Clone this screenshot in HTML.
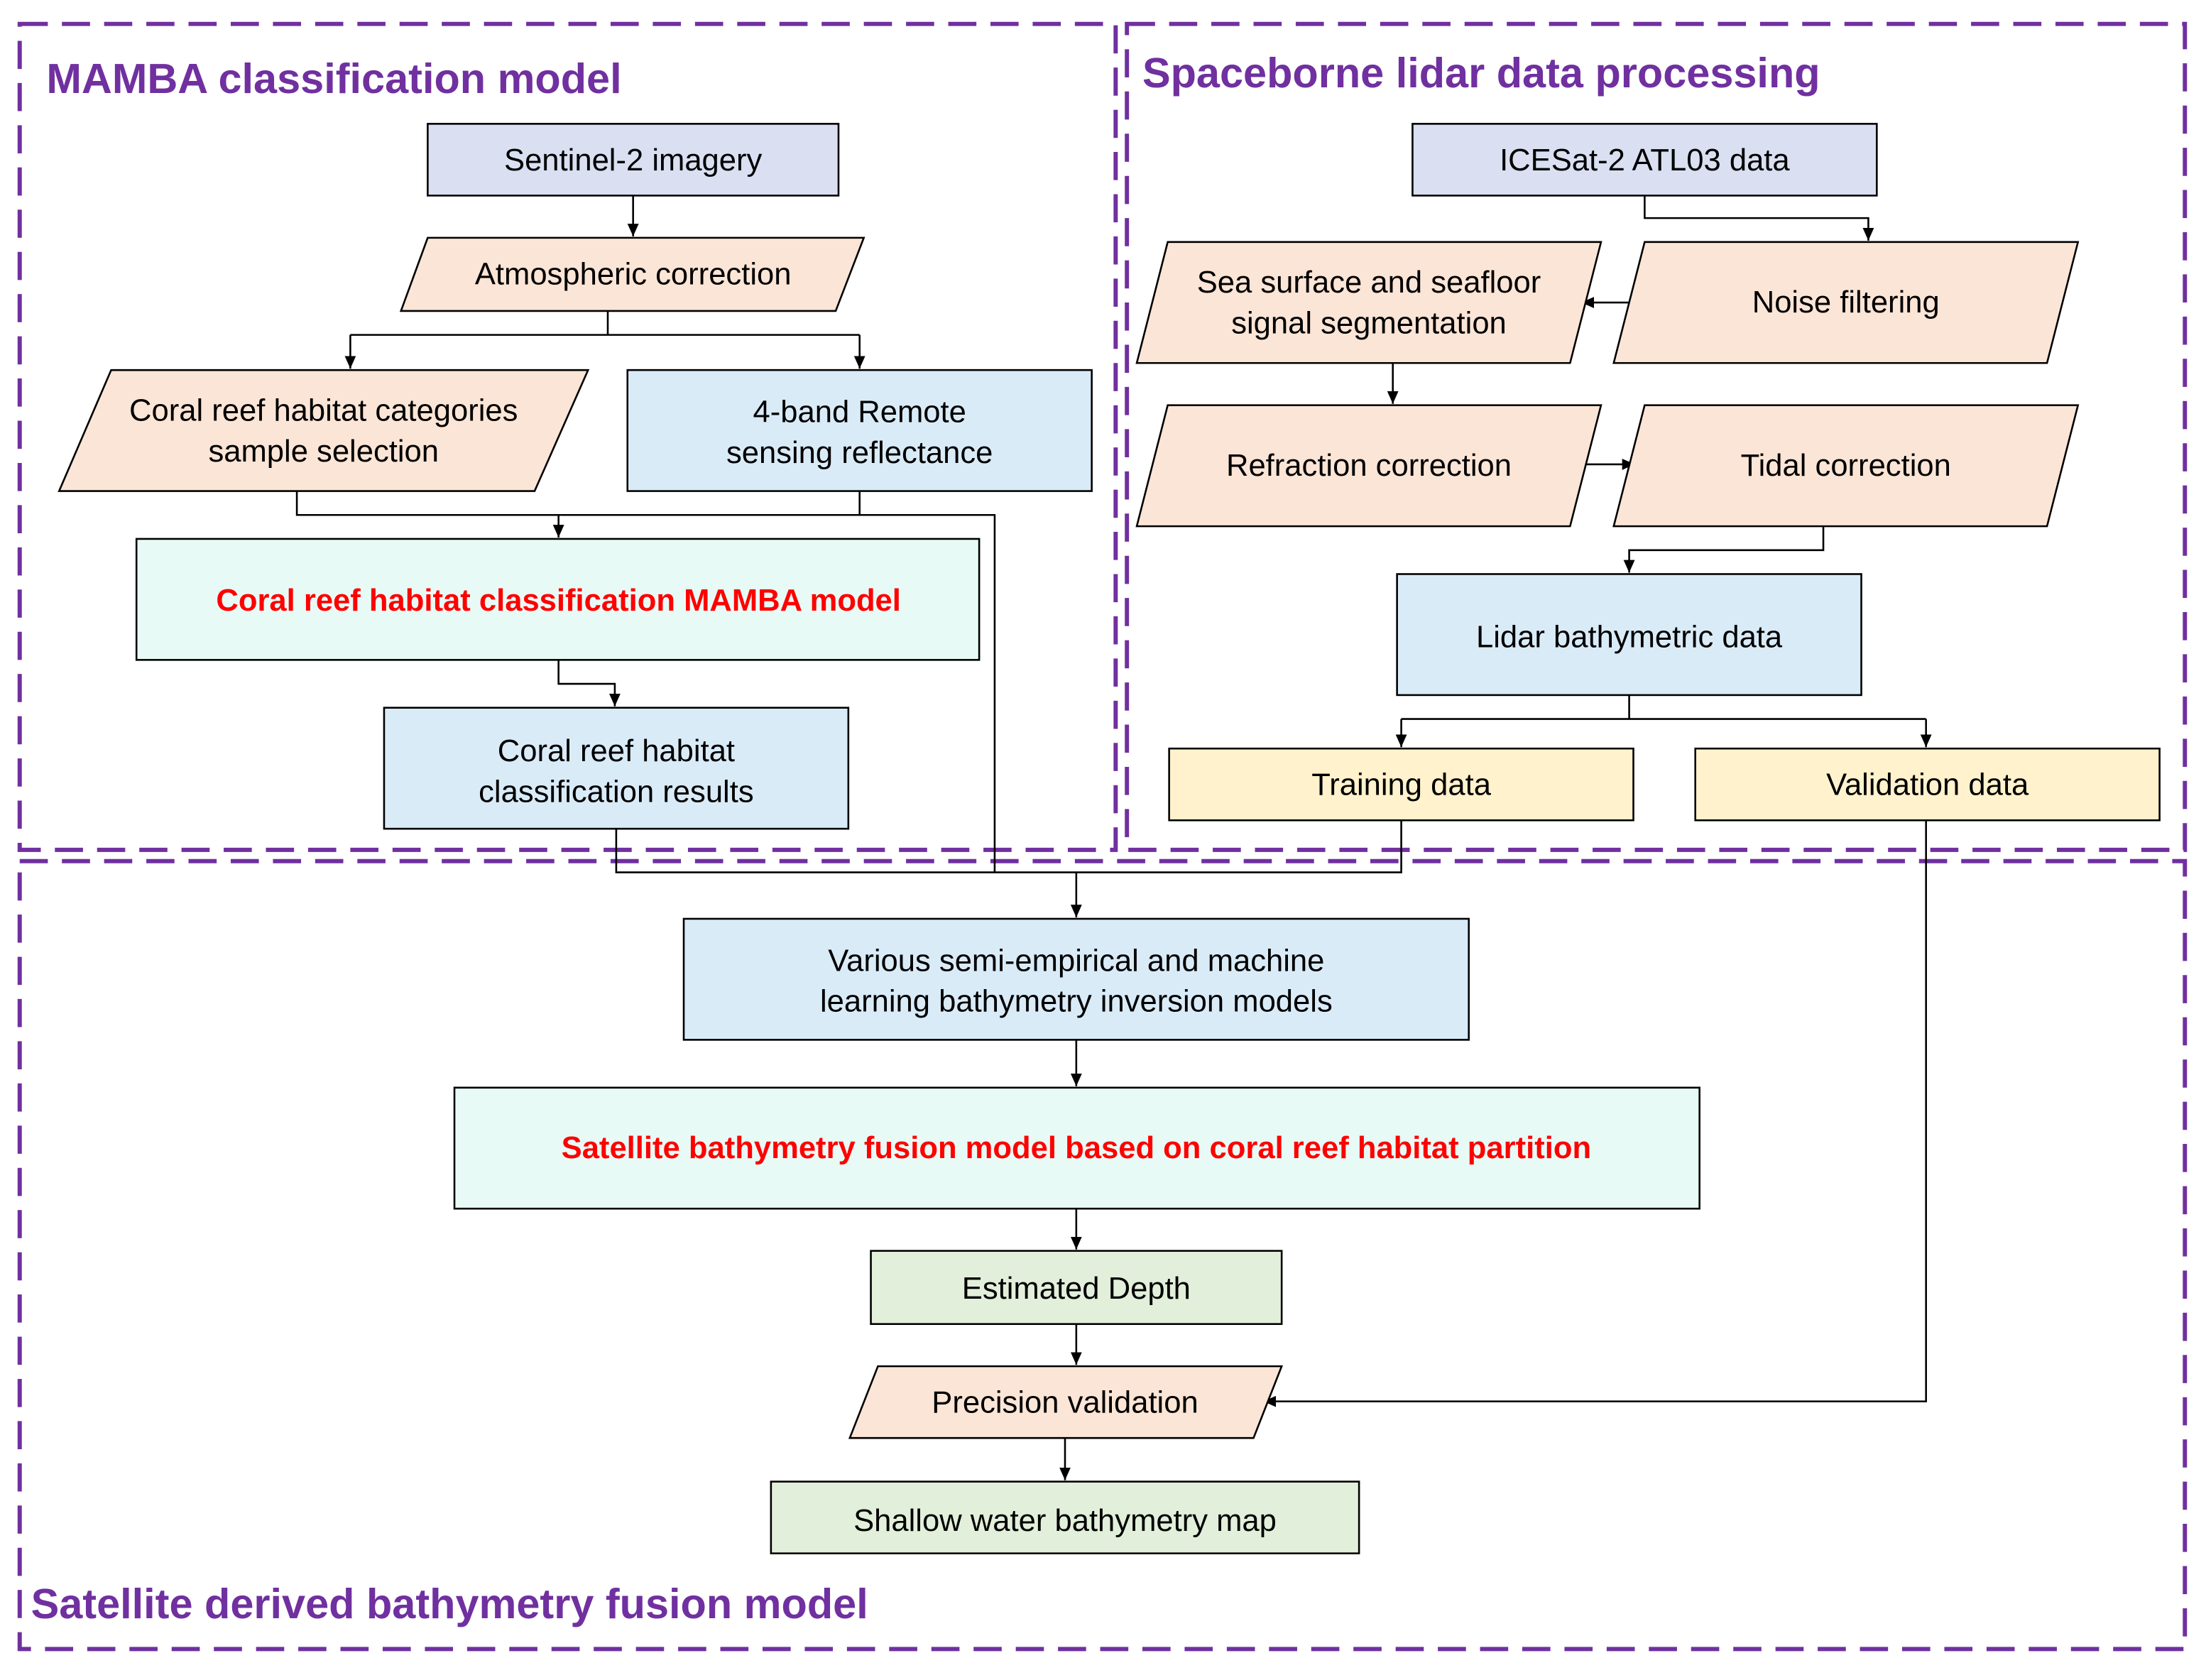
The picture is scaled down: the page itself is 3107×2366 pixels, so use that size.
<!DOCTYPE html>
<html><head><meta charset="utf-8"><style>
html,body{margin:0;padding:0;background:#fff;}
svg{display:block;}
text{font-family:"Liberation Sans",Arial,sans-serif;font-size:22px;fill:#000;text-anchor:middle;}
.t{font-weight:bold;font-size:30px;fill:#7030A0;text-anchor:start;}
.r{font-weight:bold;fill:#FF0000;}
.b{stroke:#000;stroke-width:1.3;}
.l{stroke:#000;stroke-width:1.3;fill:none;}
.f{fill:none;stroke:#7030A0;stroke-width:3;stroke-dasharray:20 10;}
</style></head><body>
<svg width="3107" height="2366" viewBox="0 0 1568 1194" preserveAspectRatio="none" xmlns="http://www.w3.org/2000/svg">
<defs><marker id="a" markerWidth="10" markerHeight="10" refX="9" refY="5" orient="auto" markerUnits="userSpaceOnUse"><path d="M0,1 L9,5 L0,9 Z" fill="#000"/></marker></defs>
<rect x="0" y="0" width="1568" height="1194" fill="#fff"/>
<!-- frames -->
<rect class="f" x="14" y="17" width="779" height="587"/>
<rect class="f" x="801" y="17" width="752" height="587"/>
<rect class="f" x="14" y="612" width="1539" height="560"/>
<text class="t" x="33" y="66">MAMBA classification model</text>
<text class="t" x="812" y="62">Spaceborne lidar data processing</text>
<text class="t" x="22" y="1150">Satellite derived bathymetry fusion model</text>

<!-- connectors -->
<path class="l" d="M450,139 V168" marker-end="url(#a)"/>
<path class="l" d="M432,221 V238 M249,238 H611"/>
<path class="l" d="M249,238 V262" marker-end="url(#a)"/>
<path class="l" d="M611,238 V262" marker-end="url(#a)"/>
<path class="l" d="M211,349 V366 H611 V349 M611,366 H707 V620"/>
<path class="l" d="M397,366 V382" marker-end="url(#a)"/>
<path class="l" d="M397,469 V486 H437 V502" marker-end="url(#a)"/>
<path class="l" d="M438,589 V620 H996 V583"/>
<path class="l" d="M765,620 V652" marker-end="url(#a)"/>
<path class="l" d="M765,739 V772" marker-end="url(#a)"/>
<path class="l" d="M765,859 V888" marker-end="url(#a)"/>
<path class="l" d="M765,941 V970" marker-end="url(#a)"/>
<path class="l" d="M757,1022 V1052" marker-end="url(#a)"/>
<path class="l" d="M1369,583 V996 H898" marker-end="url(#a)"/>
<path class="l" d="M1169,139 V155 H1328 V171" marker-end="url(#a)"/>
<path class="l" d="M1163,215 H1124" marker-end="url(#a)"/>
<path class="l" d="M990,258 V287" marker-end="url(#a)"/>
<path class="l" d="M1124,330 H1162" marker-end="url(#a)"/>
<path class="l" d="M1296,374 V391 H1158 V407" marker-end="url(#a)"/>
<path class="l" d="M1158,494 V511 H1369 M996,511 H1158"/>
<path class="l" d="M996,511 V531" marker-end="url(#a)"/>
<path class="l" d="M1369,511 V531" marker-end="url(#a)"/>

<!-- nodes -->
<rect class="b" x="304" y="88" width="292" height="51" fill="#DAE0F2"/>
<text x="450" y="121">Sentinel-2 imagery</text>
<polygon class="b" points="304,169 614,169 594,221 285,221" fill="#FBE5D6"/>
<text x="450" y="202">Atmospheric correction</text>
<polygon class="b" points="79,263 418,263 380,349 42,349" fill="#FBE5D6"/>
<text x="230" y="299">Coral reef habitat categories</text>
<text x="230" y="328">sample selection</text>
<rect class="b" x="446" y="263" width="330" height="86" fill="#DAEBF8"/>
<text x="611" y="300">4-band Remote</text>
<text x="611" y="329">sensing reflectance</text>
<rect class="b" x="97" y="383" width="599" height="86" fill="#E8FAF6"/>
<text class="r" x="397" y="434">Coral reef habitat classification MAMBA model</text>
<rect class="b" x="273" y="503" width="330" height="86" fill="#DAEBF8"/>
<text x="438" y="541">Coral reef habitat</text>
<text x="438" y="570">classification results</text>

<rect class="b" x="1004" y="88" width="330" height="51" fill="#DAE0F2"/>
<text x="1169" y="121">ICESat-2 ATL03 data</text>
<polygon class="b" points="830,172 1138,172 1116,258 808,258" fill="#FBE5D6"/>
<text x="973" y="208">Sea surface and seafloor</text>
<text x="973" y="237">signal segmentation</text>
<polygon class="b" points="1169,172 1477,172 1455,258 1147,258" fill="#FBE5D6"/>
<text x="1312" y="222">Noise filtering</text>
<polygon class="b" points="830,288 1138,288 1116,374 808,374" fill="#FBE5D6"/>
<text x="973" y="338">Refraction correction</text>
<polygon class="b" points="1169,288 1477,288 1455,374 1147,374" fill="#FBE5D6"/>
<text x="1312" y="338">Tidal correction</text>
<rect class="b" x="993" y="408" width="330" height="86" fill="#DAEBF8"/>
<text x="1158" y="460">Lidar bathymetric data</text>
<rect class="b" x="831" y="532" width="330" height="51" fill="#FFF2CC"/>
<text x="996" y="565">Training data</text>
<rect class="b" x="1205" y="532" width="330" height="51" fill="#FFF2CC"/>
<text x="1370" y="565">Validation data</text>

<rect class="b" x="486" y="653" width="558" height="86" fill="#DAEBF8"/>
<text x="765" y="690">Various semi-empirical and machine</text>
<text x="765" y="719">learning bathymetry inversion models</text>
<rect class="b" x="323" y="773" width="885" height="86" fill="#E8FAF6"/>
<text class="r" x="765" y="823">Satellite bathymetry fusion model based on coral reef habitat partition</text>
<rect class="b" x="619" y="889" width="292" height="52" fill="#E2EFDA"/>
<text x="765" y="923">Estimated Depth</text>
<polygon class="b" points="624,971 911,971 891,1022 604,1022" fill="#FBE5D6"/>
<text x="757" y="1004">Precision validation</text>
<rect class="b" x="548" y="1053" width="418" height="51" fill="#E2EFDA"/>
<text x="757" y="1088">Shallow water bathymetry map</text>
</svg>
</body></html>
